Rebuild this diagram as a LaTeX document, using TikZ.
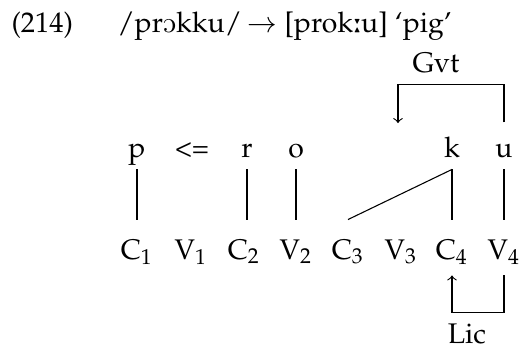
\documentclass[tikz,border=0pt]{standalone}
\usepackage[T1]{fontenc}
\usepackage{mathpazo}
\usepackage{tipa}
\usepackage{tikz}

\tikzset{
  seg/.style={anchor=base, inner xsep=2pt, inner ysep=1.5pt, text depth=2.9pt, text height=11.1pt},
  slot/.style={anchor=base, inner sep=2pt, text depth=3.9pt, text height=12.4pt},
  lbl/.style={anchor=base, inner sep=0pt}
}

\begin{document}
\begin{tikzpicture}[x=0.37pt, y=-0.37pt, font=\fontsize{10.5}{13}\selectfont]
        \useasboundingbox (0,0) rectangle (521,347);
        % example heading
        \node[lbl, anchor=base west] (num) at (11,32) {(214)};
        \node[lbl, anchor=base west] (under) at (117,32) {/pr\textopeno kku/};
        \node[lbl] (arr) at (262,32) {$\rightarrow$};
        \node[lbl, anchor=base west] (surf) at (284,32) {[prok\textlengthmark u] `pig'};
        % melody
        \node[seg] (p) at (137,157) {p};
        \node[seg] (lt) at (192,157) {\textless=};
        \node[seg] (r) at (247,157) {r};
        \node[seg] (o) at (296,157) {o};
        \node[seg] (k) at (452,157) {k};
        \node[seg] (u) at (504,157) {u};
        % skeleton
        \node[slot] (C1) at (137,259) {C$_1$};
        \node[slot] (V1) at (191,259) {V$_1$};
        \node[slot] (C2) at (244,259) {C$_2$};
        \node[slot] (V2) at (296,259) {V$_2$};
        \node[slot] (C3) at (348,259) {C$_3$};
        \node[slot] (V3) at (401,259) {V$_3$};
        \node[slot] (C4) at (452,259) {C$_4$};
        \node[slot] (V4) at (504,259) {V$_4$};
        \draw (p.south) -- (p.south |- C1.north);
        \draw (r.south) -- (r.south |- C2.north);
        \draw (o.south) -- (o.south |- V2.north);
        \draw (k.south) -- (k.south |- C4.north);
        \draw (k.south) -- (C3.north);
        \draw (u.south) -- (u.south |- V4.north);
        % government and licensing
        \node[lbl] (gvt) at (436,72) {Gvt};
        \coordinate (gvtend) at (398,123);
        \draw[->] (u.north) -- ++(0,-38) -| (gvtend);
        \node[lbl] (lic) at (467,343) {Lic};
        \draw[->] (V4.south) -- ++(0,37) -| (C4.south);
\end{tikzpicture}
\end{document}
